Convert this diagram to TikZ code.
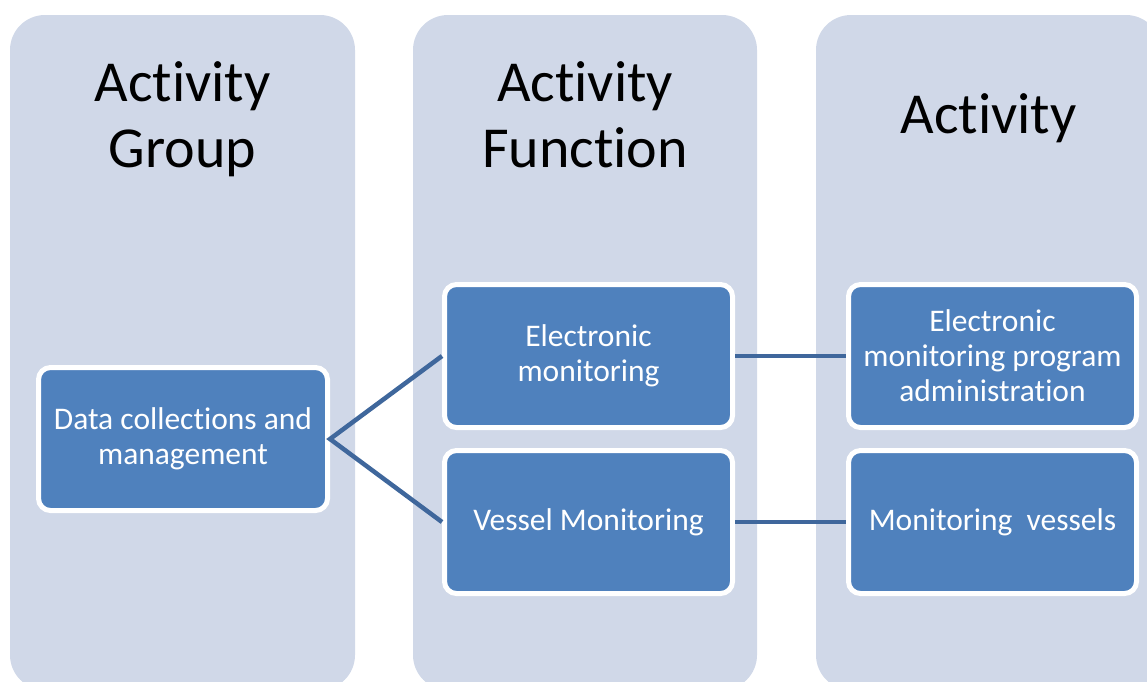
\documentclass[tikz,border=0pt]{standalone}
\usepackage{fontspec}
\setmainfont{Carlito}[Ligatures=NoCommon]
\usetikzlibrary{positioning}
\definecolor{lanefill}{RGB}{208,216,232}
\definecolor{boxblue}{RGB}{79,129,189}
\definecolor{linkblue}{RGB}{63,103,156}

\begin{document}
\begin{tikzpicture}[x=1pt,y=-1pt,
  lane/.style={fill=lanefill, rounded corners=35pt},
  title/.style={anchor=north, inner sep=0pt, align=center, font=\fontsize{58}{66}\selectfont},
  item/.style={draw=white, line width=5pt, fill=boxblue, rounded corners=12pt,
    minimum width=288pt, minimum height=143pt, inner sep=0pt, align=center,
    text=white, font=\fontsize{31.5}{35}\selectfont},
  link/.style={draw=linkblue, line width=4.5pt}]
\useasboundingbox (0,0) rectangle (1147,681);
% the three lanes
\fill[lane] (10,15) rectangle (355,690);
\fill[lane] (413,15) rectangle (757,690);
\fill[lane] (816,15) rectangle (1161,690);
\node[title] (tgroup) at (182.5,61) {Activity\\Group};
\node[title] (tfunc) at (585,61) {Activity\\Function};
\node[title] (tact) at (988.5,93) {Activity};
% boxes
\node[item, minimum width=289pt] (data) at (183,439) {Data collections and\\management};
\node[item] (elec) at (588.5,356) {Electronic\\monitoring};
\node[item, below=18pt of elec] (vessel) {Vessel Monitoring};
\node[item, right=111pt of elec] (prog) {Electronic\\monitoring program\\administration};
\node[item, right=111pt of vessel] (monv) {Monitoring\ \ vessels};
% links
\draw[link] (elec.west) -- (data.east) -- (vessel.west);
\draw[link] (elec.east) -- (prog.west);
\draw[link] (vessel.east) -- (monv.west);
\end{tikzpicture}
\end{document}
